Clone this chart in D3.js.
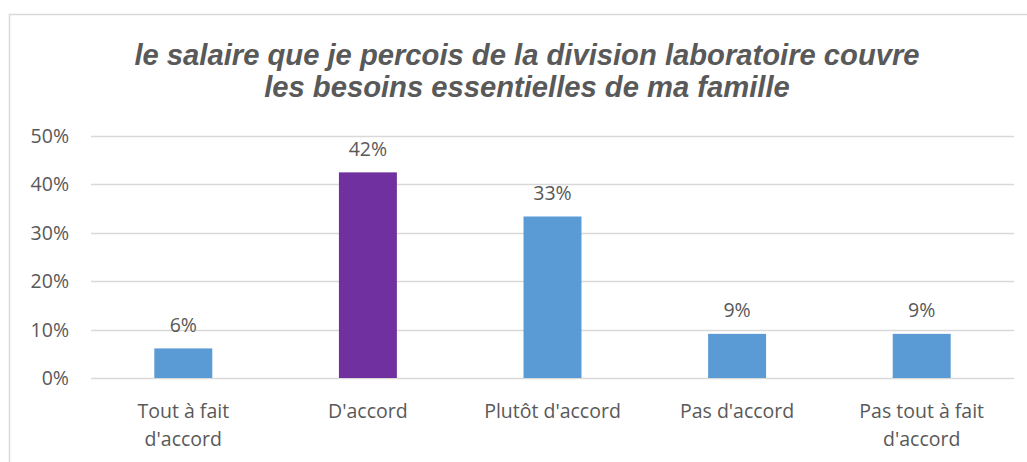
<!DOCTYPE html>
<html>
<head>
<meta charset="utf-8">
<script src="https://cdn.jsdelivr.net/npm/d3@7"></script>
<style>
  body { margin: 0; background: #fff; }
  svg { display: block; }
</style>
</head>
<body>
<div id="chart"></div>
<script>
// data
const categories = ['Tout à fait d\'accord', 'D\'accord', 'Plutôt d\'accord', 'Pas d\'accord', 'Pas tout à fait d\'accord'];
const values = [0.061, 0.424, 0.333, 0.091, 0.091];
const labels = ['6%', '42%', '33%', '9%', '9%'];
const yTicks = [0, 0.1, 0.2, 0.3, 0.4, 0.5];
const titleLines = ['le salaire que je percois de la division laboratoire couvre', 'les besoins essentielles de ma famille'];

const width = 1027, height = 462;
const margin = { top: 135.5, right: 13, bottom: 84, left: 91 };
const textColor = '#595959';
const bodyFont = '"Open Sans", "Noto Sans", sans-serif';
const bodySize = '19.5px';

const svg = d3.select('#chart').append('svg')
    .attr('width', width)
    .attr('height', height);

// chart frame (cropped on the right and bottom)
svg.append('rect')
    .attr('x', 9.5).attr('y', 14.5)
    .attr('width', 1040).attr('height', 470)
    .attr('fill', 'none')
    .attr('stroke', '#d9d9d9')
    .attr('stroke-width', 1.5);

// title
svg.append('g').selectAll('text')
    .data(titleLines)
    .enter().append('text')
        .attr('x', 527)
        .attr('y', function(d, i) { return 65 + i * 32; })
        .attr('text-anchor', 'middle')
        .style('font-family', '"Liberation Sans", Arial, sans-serif')
        .style('font-weight', 'bold')
        .style('font-style', 'italic')
        .style('font-size', '29.2px')
        .style('fill', textColor)
        .text(function(d) { return d; });

const x = d3.scaleBand()
    .domain(categories)
    .range([margin.left, width - margin.right])
    .paddingInner(0.686)
    .paddingOuter(0.343);

const y = d3.scaleLinear()
    .domain([0, 0.5])
    .range([height - margin.bottom, margin.top]);

// gridlines
svg.append('g')
    .selectAll('line')
    .data(yTicks)
    .enter().append('line')
        .attr('x1', margin.left)
        .attr('x2', width - margin.right)
        .attr('y1', function(d) { return Math.round(y(d)) + 0.5; })
        .attr('y2', function(d) { return Math.round(y(d)) + 0.5; })
        .style('stroke', '#d9d9d9')
        .style('stroke-width', 1.5);

// y axis labels
const yAxis = svg.append('g')
    .attr('transform', 'translate(' + (margin.left - 22) + ',0)')
    .call(d3.axisLeft(y).tickValues(yTicks).tickFormat(d3.format('.0%')).tickSize(0).tickPadding(0));
yAxis.select('.domain').remove();
yAxis.selectAll('text')
    .style('font-family', bodyFont)
    .style('font-size', bodySize)
    .style('fill', textColor)
    .attr('dy', '0.35em');

// bars
svg.append('g')
    .selectAll('rect')
    .data(values)
    .enter().append('rect')
        .attr('x', function(d, i) { return x(categories[i]); })
        .attr('width', x.bandwidth())
        .attr('y', function(d) { return y(d); })
        .attr('height', function(d) { return y(0) - y(d); })
        .style('fill', function(d, i) { return i === 1 ? '#7030a0' : '#5b9bd5'; });

// value labels
svg.append('g')
    .selectAll('text')
    .data(values)
    .enter().append('text')
        .attr('x', function(d, i) { return x(categories[i]) + x.bandwidth() / 2; })
        .attr('y', function(d) { return y(d) - 16.5; })
        .attr('text-anchor', 'middle')
        .style('font-family', bodyFont)
        .style('font-size', bodySize)
        .style('fill', textColor)
        .text(function(d, i) { return labels[i]; });

// category labels, wrapped like the original
const catLines = [['Tout à fait', 'd\'accord'], ['D\'accord'], ['Plutôt d\'accord'], ['Pas d\'accord'], ['Pas tout à fait', 'd\'accord']];
const catG = svg.append('g')
    .selectAll('text')
    .data(categories)
    .enter().append('text')
        .attr('text-anchor', 'middle')
        .style('font-family', bodyFont)
        .style('font-size', bodySize)
        .style('fill', textColor);
catG.each(function(d, i) {
    const t = d3.select(this);
    catLines[i].forEach(function(line, j) {
        t.append('tspan')
            .attr('x', x(d) + x.bandwidth() / 2)
            .attr('y', y(0) + 40 + j * 28)
            .text(line);
    });
});
</script>
</body>
</html>
